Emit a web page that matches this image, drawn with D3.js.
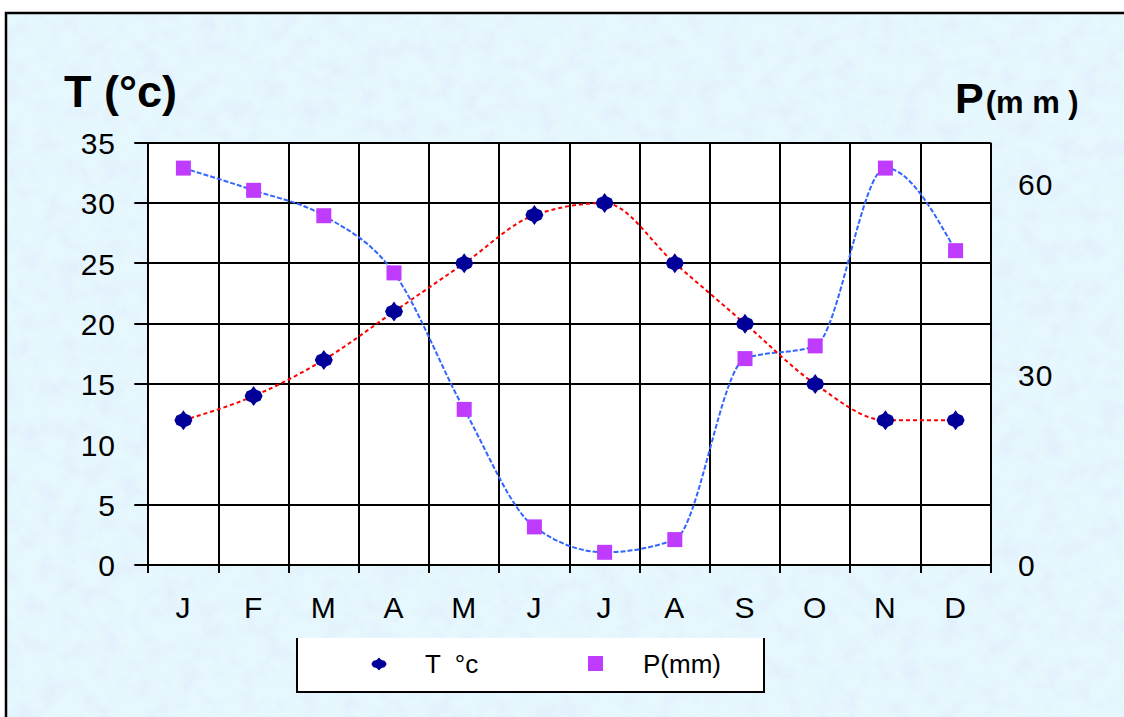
<!DOCTYPE html>
<html>
<head>
<meta charset="utf-8">
<script src="https://cdn.jsdelivr.net/npm/d3@7/dist/d3.min.js"></script>
<style>
  html, body { margin: 0; padding: 0; background: #ffffff; }
  svg { display: block; }
  text { font-family: "Liberation Sans", Arial, sans-serif; fill: #000; }
</style>
</head>
<body>
<svg id="chart" width="1124" height="717"></svg>
<script>
// Climate diagram: monthly mean temperature and precipitation
const months = ["J", "F", "M", "A", "M", "J", "J", "A", "S", "O", "N", "D"];
const monthKeys = months.map((m, i) => i);
const temperature = [12, 14, 17, 21, 25, 29, 30, 25, 20, 15, 12, 12];          // °C
const precipitation = [62.5, 59, 55, 46, 24.5, 6, 2, 4, 32.5, 34.5, 62.5, 49.5]; // mm
const tTicks = [0, 5, 10, 15, 20, 25, 30, 35];
const tGrid = [0, 5, 15, 20, 25, 30, 35];
const pTicks = [0, 30, 60];

const svg = d3.select("#chart");
const W = 1124, H = 717;
const plot = { left: 148.3, right: 990.7, top: 142.7, bottom: 565 };

// Textured light-blue backdrop
const defs = svg.append("defs");
const f = defs.append("filter").attr("id", "mottle")
  .attr("x", 0).attr("y", 0).attr("width", 1).attr("height", 1);
f.append("feTurbulence").attr("type", "fractalNoise")
  .attr("baseFrequency", 0.05).attr("numOctaves", 4).attr("seed", 7);
f.append("feColorMatrix").attr("type", "matrix")
  .attr("values", "0 0 0 0 0.76  0 0 0 0 0.86  0 0 0 0 0.98  2.4 0 0 0 -1.0");

svg.append("rect").attr("x", 7).attr("y", 14).attr("width", W - 7).attr("height", H - 14)
  .attr("fill", "#e6f8fd");
svg.append("rect").attr("x", 7).attr("y", 14).attr("width", W - 7).attr("height", H - 14)
  .attr("filter", "url(#mottle)").attr("opacity", 0.85);

// Frame (top and left edges)
svg.append("path").attr("d", `M6,${H} V13 H${W}`)
  .attr("fill", "none").attr("stroke", "#000").attr("stroke-width", 2.5);

// Scales
const x = d3.scaleBand().domain(monthKeys).range([plot.left, plot.right]).padding(0);
const cx = i => x(i) + x.bandwidth() / 2;
const yT = d3.scaleLinear().domain([0, 35]).range([plot.bottom, plot.top]);
const yP = d3.scaleLinear().domain([0, 66.5]).range([plot.bottom, plot.top]);

// Plot area
svg.append("rect").attr("x", plot.left).attr("y", plot.top)
  .attr("width", plot.right - plot.left).attr("height", plot.bottom - plot.top)
  .attr("fill", "#ffffff");

// Grid lines
const grid = svg.append("g").attr("stroke", "#000").attr("stroke-width", 2);
grid.selectAll("line.h").data(tGrid).join("line").attr("class", "h")
  .attr("x1", plot.left - 14).attr("x2", plot.right)
  .attr("y1", d => Math.round(yT(d))).attr("y2", d => Math.round(yT(d)));
const bounds = monthKeys.map(i => x(i)).concat([plot.right]);
grid.selectAll("line.v").data(bounds).join("line").attr("class", "v")
  .attr("x1", d => Math.round(d)).attr("x2", d => Math.round(d))
  .attr("y1", plot.top).attr("y2", plot.bottom + 8);

// Axes (labels only)
const axisLeft = d3.axisLeft(yT).tickValues(tTicks).tickSize(0).tickPadding(0);
const gL = svg.append("g").attr("transform", "translate(116,0)").call(axisLeft);
const axisRight = d3.axisRight(yP).tickValues(pTicks).tickSize(0).tickPadding(0);
const gR = svg.append("g").attr("transform", "translate(1018,0)").call(axisRight);
const axisBottom = d3.axisBottom(x).tickFormat(i => months[i]).tickSize(0).tickPadding(0);
const gB = svg.append("g").attr("transform", "translate(0,596)").call(axisBottom);
[gL, gR, gB].forEach(g => {
  g.select(".domain").remove();
  g.selectAll("text").attr("fill", "#000")
    .style("font-family", '"Liberation Sans", Arial, sans-serif')
    .style("font-size", "30px").style("letter-spacing", "1px");
});
gL.selectAll("text").attr("dy", "0.36em");
gR.selectAll("text").attr("dy", "0.36em");
gB.selectAll("text").attr("dy", "0.72em");

// Axis titles
svg.append("text").attr("x", 64).attr("y", 107)
  .style("font-size", "45px").style("font-weight", "bold").text("T (°c)");
const pt = svg.append("text").attr("x", 955).attr("y", 113).style("font-weight", "bold");
pt.append("tspan").style("font-size", "43px").text("P");
pt.append("tspan").style("font-size", "31px").attr("dx", 2).text("(m m )");

// Lines
const tLine = d3.line().x((d, i) => cx(i)).y(d => yT(d)).curve(d3.curveMonotoneX);
const pLine = d3.line().x((d, i) => cx(i)).y(d => yP(d)).curve(d3.curveMonotoneX);

svg.append("path").datum(precipitation).attr("d", pLine)
  .attr("fill", "none").attr("stroke", "#3366ff").attr("stroke-width", 2)
  .attr("stroke-dasharray", "5,2");
svg.append("path").datum(temperature).attr("d", tLine)
  .attr("fill", "none").attr("stroke", "#ff0000").attr("stroke-width", 2)
  .attr("stroke-dasharray", "4,3");

// Markers
const starPath = "M0,-10 L2.5,-6.5 L7,-4.5 L9,0 L7,4.5 L2.5,6.5 L0,10 L-2.5,6.5 L-7,4.5 L-9,0 L-7,-4.5 L-2.5,-6.5 Z";
svg.append("g").selectAll("path").data(temperature).join("path")
  .attr("transform", (d, i) => `translate(${cx(i)},${yT(d)})`)
  .attr("d", starPath).attr("fill", "#000099");
svg.append("g").selectAll("rect").data(precipitation).join("rect")
  .attr("x", (d, i) => cx(i) - 7.5).attr("y", d => yP(d) - 7.5)
  .attr("width", 15).attr("height", 15).attr("fill", "#bf3cff");

// Legend
const lg = svg.append("g");
lg.append("rect").attr("x", 297).attr("y", 638).attr("width", 467).attr("height", 54).attr("fill", "#fff");
lg.append("path").attr("d", "M297,638 V692 H764 V638")
  .attr("fill", "none").attr("stroke", "#000").attr("stroke-width", 2);
lg.append("path").attr("d", starPath).attr("fill", "#000099")
  .attr("transform", "translate(379,664) scale(0.85,0.65)");
lg.append("text").attr("x", 425).attr("y", 673).style("font-size", "26px")
  .attr("xml:space", "preserve").text("T  °c");
lg.append("rect").attr("x", 588).attr("y", 656).attr("width", 15).attr("height", 15).attr("fill", "#bf3cff");
lg.append("text").attr("x", 643).attr("y", 673).style("font-size", "26px").text("P(mm)");
</script>
</body>
</html>
